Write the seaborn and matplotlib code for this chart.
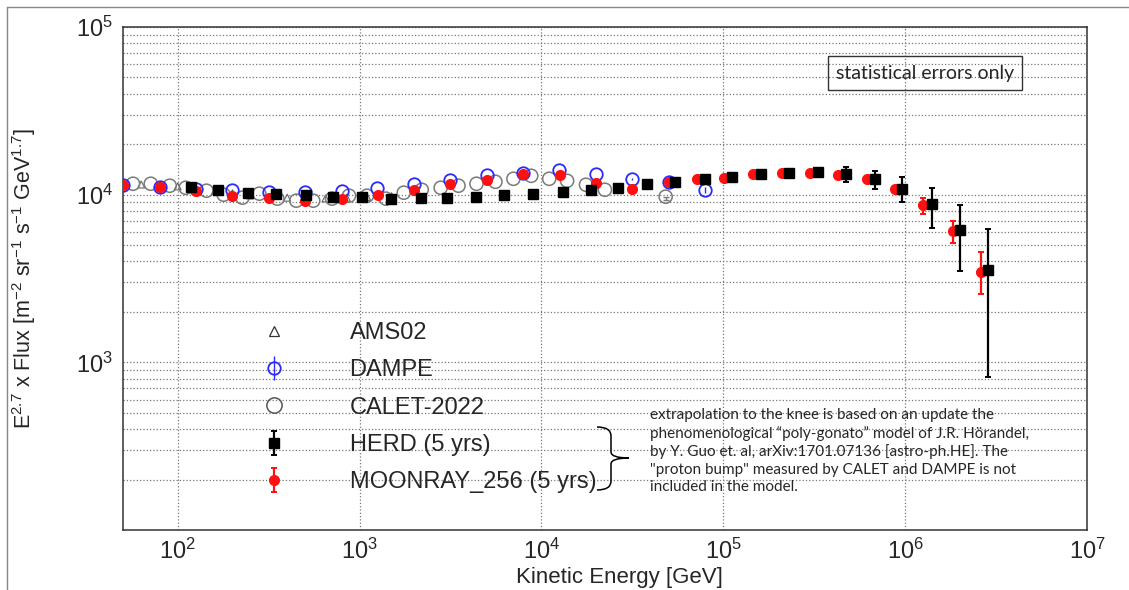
import matplotlib
matplotlib.use("Agg")
import matplotlib.pyplot as plt
import seaborn as sns
import pandas as pd
from matplotlib.lines import Line2D
from matplotlib.path import Path
from matplotlib.patches import PathPatch
from matplotlib.ticker import LogLocator, NullFormatter, LogFormatterSciNotation

# AMS02 (mostly hidden behind the CALET circles)
ams_e = [63, 80, 100, 125, 160, 200, 250, 320, 400, 500, 650, 850, 1100, 1500]
ams_f = [11500, 11400, 11200, 10900, 10500, 10200, 9900, 9700, 9600, 9500, 9500, 9600, 9700, 9800]

# CALET-2022
calet_e = [56.8, 71.1, 90.4, 110.7, 144, 179, 227, 281, 353, 449, 556, 706, 875, 1099,
           1396, 1750, 2198, 2793, 3500, 4395, 5585, 7015, 8790, 11040, 13840, 17580,
           22340, 48200]
calet_f = [11620, 11620, 11310, 11000, 10560, 10000, 9600, 10140, 9470, 9210, 9210, 9470,
           9860, 9860, 9470, 10280, 10700, 11000, 11310, 11620, 11940, 12440, 12960, 12440,
           12100, 11460, 10700, 9730]

# DAMPE
dampe_e = [50, 80, 126, 200, 316, 500, 800, 1250, 2000, 3150, 5000, 7900, 12500, 20000,
           31600, 50000, 79000]
dampe_f = [11460, 11150, 10850, 10700, 10420, 10420, 10560, 11000, 11620, 12270, 13140,
           13500, 14060, 13320, 12440, 11940, 10700]
dampe_err = [0, 0, 0, 0, 0, 0, 0, 0, 0, 0, 0, 0, 0, 0, 200, 300, 400]

# MOONRAY_256 (5 yrs)
moon_e = [50, 80, 126, 200, 316, 500, 800, 1260, 2000, 3160, 5000, 7900, 12600, 20000,
          31600, 50000, 71600, 101000, 146000, 210000, 300000, 427000, 617000, 879000,
          1.25e6, 1.83e6, 2.61e6]
moon_f = [11460, 11150, 10560, 9860, 9600, 9210, 9470, 10000, 10700, 11620, 12270, 13320,
          13140, 11780, 10850, 11940, 12440, 12610, 13320, 13500, 13500, 13140, 12440,
          10780, 8730, 6040, 3450]
moon_lo = [0] * 22 + [250, 400, 1010, 920, 900]
moon_hi = [0] * 22 + [250, 400, 870, 970, 1080]

# HERD (5 yrs)
herd_e = [119, 166, 243, 346, 505, 712, 1030, 1490, 2170, 3020, 4360, 6210, 8970, 13100,
          18700, 26300, 38000, 54200, 79300, 111500, 161000, 229600, 331300, 472300,
          682000, 960000, 1.40e6, 2.0e6, 2.85e6]
herd_f = [11150, 10700, 10280, 10140, 10000, 9730, 9730, 9470, 9600, 9600, 9730, 10000,
          10140, 10420, 10700, 11000, 11620, 11940, 12440, 12780, 13320, 13500, 13690,
          13320, 12440, 10850, 8840, 6120, 3540]
herd_lo = [0] * 20 + [200, 400, 600, 1380, 1590, 1760, 2470, 2620, 2718]
herd_hi = [0] * 20 + [200, 400, 600, 1340, 1440, 1940, 2160, 2610, 2660]

labels = ["AMS02", "DAMPE", "CALET-2022", "HERD (5 yrs)", "MOONRAY_256 (5 yrs)"]

sns.set_style("white")
plt.rcParams["font.family"] = ["Liberation Sans", "DejaVu Sans"]
plt.rcParams["mathtext.default"] = "regular"

fig = plt.figure(figsize=(11.29, 5.90), dpi=100)
ax = fig.add_axes([0.1089, 0.1017, 0.8539, 0.8525])
ax.set_xscale("log")
ax.set_yscale("log")

ams = pd.DataFrame({"E": ams_e, "F": ams_f})
calet = pd.DataFrame({"E": calet_e, "F": calet_f})

sns.scatterplot(data=ams, x="E", y="F", marker="^", s=25, facecolor="none",
                edgecolor="#666666", linewidth=0.8, legend=False, ax=ax, zorder=3)
sns.scatterplot(data=calet, x="E", y="F", marker="o", s=90, facecolor="none",
                edgecolor="#7a7a7a", linewidth=1.1, legend=False, ax=ax, zorder=3)
ax.errorbar([calet_e[-1]], [calet_f[-1]], yerr=[[450], [0]], fmt="none",
            ecolor="#7a7a7a", elinewidth=1, capsize=2, zorder=3)

dampe_h = ax.errorbar(dampe_e, dampe_f, yerr=dampe_err, fmt="o", ms=9, mfc="none",
                      mec="#2a2aff", mew=1.3, ecolor="#2a2aff", elinewidth=1,
                      capsize=0, zorder=4)
moon_h = ax.errorbar(moon_e, moon_f, yerr=[moon_lo, moon_hi], fmt="o", ms=7,
                     color="#ff1010", mec="#ff1010", ecolor="#ff1010", elinewidth=1.6,
                     capsize=2.5, capthick=1.4, zorder=5)
herd_h = ax.errorbar(herd_e, herd_f, yerr=[herd_lo, herd_hi], fmt="s", ms=7,
                     color="black", ecolor="black", elinewidth=1.6, capsize=2.5,
                     capthick=1.4, zorder=6)

ax.set_xlim(50, 1e7)
ax.set_ylim(100, 1e5)

ax.xaxis.set_major_locator(LogLocator(base=10, numticks=20))
ax.xaxis.set_minor_locator(LogLocator(base=10, subs=range(2, 10), numticks=20))
ax.xaxis.set_major_formatter(LogFormatterSciNotation())
ax.xaxis.set_minor_formatter(NullFormatter())
ax.set_yticks([1e3, 1e4, 1e5])
ax.yaxis.set_minor_locator(LogLocator(base=10, subs=range(2, 10), numticks=20))
ax.yaxis.set_major_formatter(LogFormatterSciNotation())
ax.yaxis.set_minor_formatter(NullFormatter())

ax.grid(which="major", axis="both", linestyle=":", color="#777777", linewidth=0.9)
ax.grid(which="minor", axis="y", linestyle=":", color="#777777", linewidth=0.9)
ax.set_axisbelow(True)

ax.tick_params(axis="x", which="major", direction="in", length=12, width=1.1,
               color="#444444", labelsize=17, pad=6)
ax.tick_params(axis="x", which="minor", direction="in", length=5, width=1.1,
               color="#444444")
ax.tick_params(axis="y", which="major", direction="in", length=20, width=1.4,
               color="#666666", labelsize=17, pad=7)
ax.tick_params(axis="y", which="minor", direction="in", length=11.5, width=1.4,
               color="#666666")
for s in ax.spines.values():
    s.set_color("#333333")
    s.set_linewidth(1.1)

ax.set_xlabel("Kinetic Energy [GeV]", fontsize=16)
ax.xaxis.set_label_coords(0.515, -0.074)
ax.set_ylabel(r"E$^{2.7}$ x Flux [m$^{-2}$ sr$^{-1}$ s$^{-1}$ GeV$^{1.7}$]", fontsize=15.5)
ax.yaxis.set_label_coords(-0.088, 0.5)

ams_h = Line2D([], [], marker="^", ls="none", ms=7, mfc="none", mec="#333333", mew=0.9)
calet_h = Line2D([], [], marker="o", ls="none", ms=11, mfc="none", mec="#555555", mew=1.1)
ax.legend([ams_h, dampe_h, calet_h, herd_h, moon_h], labels, loc="upper left",
          bbox_to_anchor=(0.12, 0.437), frameon=False, fontsize=17, handlelength=2,
          handletextpad=2.2, labelspacing=0.65, borderpad=0)

ax.text(0.832, 0.9085, "statistical errors only", transform=ax.transAxes, fontsize=14,
        family="Lato", ha="center", va="center",
        bbox=dict(boxstyle="square,pad=0.42", facecolor="none", edgecolor="#333333",
                  linewidth=1))

note = ("extrapolation to the knee is based on an update the\n"
        "phenomenological \u201cpoly-gonato\u201d model of J.R. H\u00f6randel,\n"
        "by Y. Guo et. al, arXiv:1701.07136 [astro-ph.HE]. The\n"
        "\"proton bump\" measured by CALET and DAMPE is not\n"
        "included in the model.")
fig.text(650 / 1129, 1 - 408 / 590, note, fontsize=11, family="Lato", va="top",
         ha="left", linespacing=1.32)


def fp(x, y):
    return (x / 1129, 1 - y / 590)


verts = [fp(597, 427), fp(611, 427), fp(611, 436), fp(611, 452), fp(611, 458), fp(629, 458),
         fp(611, 458), fp(611, 464), fp(611, 481), fp(611, 490), fp(597, 490)]
codes = [Path.MOVETO, Path.CURVE3, Path.CURVE3, Path.LINETO, Path.CURVE3, Path.CURVE3,
         Path.CURVE3, Path.CURVE3, Path.LINETO, Path.CURVE3, Path.CURVE3]
fig.add_artist(PathPatch(Path(verts, codes), transform=fig.transFigure, fill=False,
                         edgecolor="black", linewidth=1.1))

# outer frame of the original figure (left and top edges)
fig.add_artist(Line2D([7 / 1129, 7 / 1129], [0, 1 - 7 / 590], transform=fig.transFigure,
                      color="#888888", linewidth=1))
fig.add_artist(Line2D([7 / 1129, 1], [1 - 7 / 590, 1 - 7 / 590], transform=fig.transFigure,
                      color="#888888", linewidth=1))

fig.savefig("out.png", dpi=100)
